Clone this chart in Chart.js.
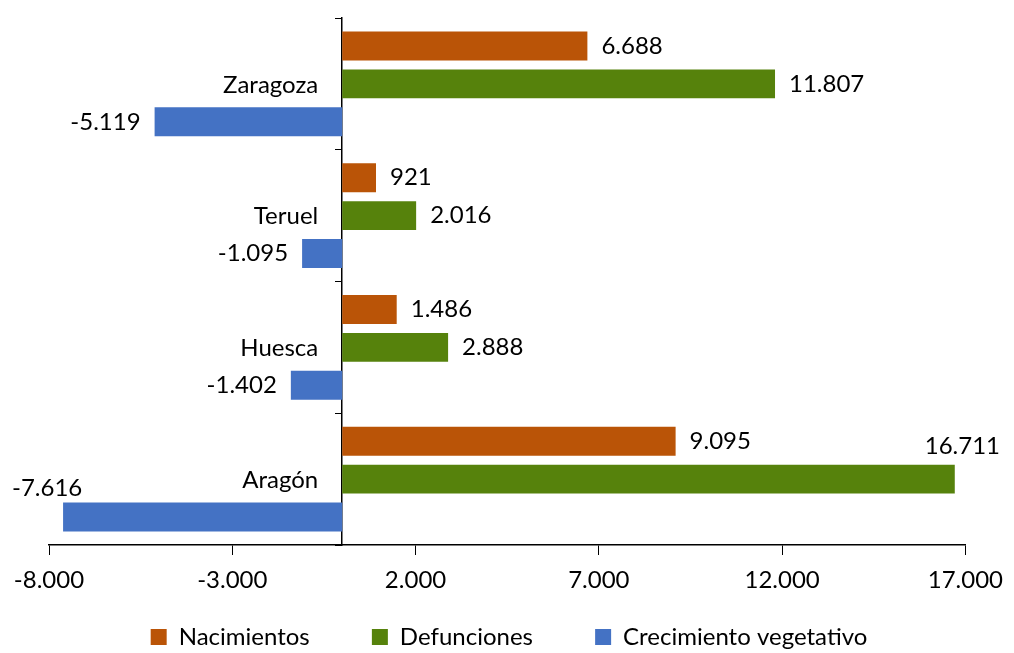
<!DOCTYPE html>
<html lang="es">
<head>
<meta charset="UTF-8">
<title>Nacimientos, defunciones y crecimiento vegetativo</title>
<script src="https://cdn.jsdelivr.net/npm/chart.js"></script>
<style>
  html, body { margin: 0; padding: 0; background: #fff; }
  #wrap { width: 1014px; height: 653px; }
</style>
</head>
<body>
<div id="wrap"><canvas id="chart"></canvas></div>
<script>
// datos
const provincias = ["Zaragoza", "Teruel", "Huesca", "Aragón"];
const nacimientos = [6688, 921, 1486, 9095];
const defunciones = [11807, 2016, 2888, 16711];
const crecimiento = [-5119, -1095, -1402, -7616];
const ejeTicks = [-8000, -3000, 2000, 7000, 12000, 17000];

const FUENTE = "Lato, 'Open Sans', sans-serif";
const TAM = 24;

// 12000 -> "12.000"
function fmt(v) {
  const s = Math.abs(v).toString().replace(/\B(?=(\d{3})+(?!\d))/g, ".");
  return (v < 0 ? "-" : "") + s;
}

// etiquetas de valor y nombres de provincia junto al eje
const etiquetas = {
  id: "etiquetas",
  afterDatasetsDraw(chart) {
    const ctx = chart.ctx;
    const W = chart.width;
    ctx.save();
    ctx.font = TAM + "px " + FUENTE;
    ctx.fillStyle = "#000";
    ctx.textBaseline = "middle";
    chart.data.datasets.forEach((ds, i) => {
      chart.getDatasetMeta(i).data.forEach((bar, j) => {
        const v = ds.data[j];
        const txt = fmt(v);
        const w = ctx.measureText(txt).width;
        const top = bar.y - bar.height / 2;
        if (v >= 0) {
          if (bar.x + 14 + w > W - 8) {
            ctx.textAlign = "right";
            ctx.fillText(txt, W - 14, top - 18);
          } else {
            ctx.textAlign = "left";
            ctx.fillText(txt, bar.x + 14, bar.y);
          }
        } else {
          if (bar.x - 14 - w < 8) {
            ctx.textAlign = "left";
            ctx.fillText(txt, 12, top - 14);
          } else {
            ctx.textAlign = "right";
            ctx.fillText(txt, bar.x - 14, bar.y);
          }
        }
      });
    });
    // nombres de categoria a la izquierda del eje en 0
    const x0 = chart.scales.x.getPixelForValue(0);
    ctx.textAlign = "right";
    provincias.forEach((p, i) => {
      ctx.fillText(p, x0 - 24, chart.scales.y.getPixelForValue(i) + 1);
    });
    ctx.restore();
  }
};

new Chart(document.getElementById("chart"), {
  type: "bar",
  data: {
    labels: provincias,
    datasets: [
      { label: "Nacimientos", data: nacimientos, backgroundColor: "#BA5407" },
      { label: "Defunciones", data: defunciones, backgroundColor: "#56820C" },
      { label: "Crecimiento vegetativo", data: crecimiento, backgroundColor: "#4472C4" }
    ]
  },
  options: {
    indexAxis: "y",
    responsive: true,
    maintainAspectRatio: false,
    animation: false,
    categoryPercentage: 0.864,
    barPercentage: 0.763,
    layout: { padding: { top: 18, left: 49, right: 45, bottom: -6 } },
    scales: {
      x: {
        min: ejeTicks[0],
        max: ejeTicks[ejeTicks.length - 1],
        afterBuildTicks: (s) => { s.ticks = ejeTicks.map(v => ({ value: v })); },
        afterFit: (s) => { s.height = 60; },
        ticks: { callback: fmt, color: "#000", font: { size: TAM, family: FUENTE }, padding: 11, maxRotation: 0 },
        grid: { drawOnChartArea: false, tickLength: 10, color: "#000" },
        border: { color: "#000", width: 1.5 }
      },
      y: {
        position: { x: 0 },
        ticks: { display: false },
        grid: { offset: true, drawOnChartArea: false, tickLength: 6, color: "#000" },
        border: { color: "#000", width: 1.5 }
      }
    },
    plugins: {
      legend: {
        position: "bottom",
        labels: {
          boxWidth: 16, boxHeight: 16, padding: 20, color: "#000",
          font: { size: TAM, family: FUENTE },
          generateLabels: (chart) => {
            const items = Chart.defaults.plugins.legend.labels.generateLabels(chart);
            items.forEach((it, i) => { if (i < items.length - 1) it.text += "\u2003\u2003 "; });
            return items;
          }
        }
      },
      tooltip: { enabled: false }
    }
  },
  plugins: [etiquetas]
});
</script>
</body>
</html>
